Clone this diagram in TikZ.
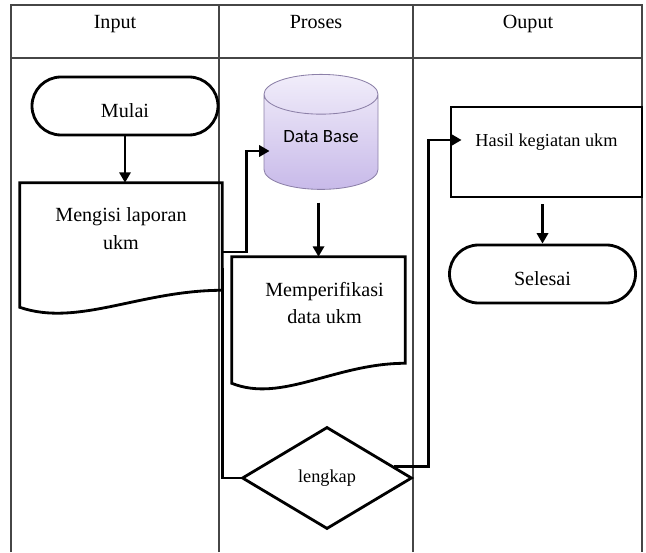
\documentclass[tikz,border=0pt]{standalone}
\usepackage{fontspec}
\setmainfont{Liberation Serif}
\newfontfamily\dbfont{Carlito}
\usetikzlibrary{shapes.geometric,arrows.meta}

\definecolor{dbtop}{RGB}{241,237,250}
\definecolor{dbbottom}{RGB}{200,186,233}
\definecolor{dbline}{RGB}{140,128,168}
\definecolor{gridline}{RGB}{70,70,70}

\newcommand*{\flowfont}{\fontsize{14.3}{19.8}\selectfont}

\tikzset{
	tableline/.style={line width=0.8pt,gridline},
	header/.style={font=\flowfont,text height=10pt,text depth=3pt},
	flowline/.style={line width=2pt},
	flowarrow/.style={line width=2pt,-{Triangle[length=2.6mm,width=2.8mm]}},
	terminal/.style={draw,line width=2pt,rounded corners=7.25mm,minimum width=4.65cm,minimum height=1.45cm,text height=16pt,text depth=0pt,font=\flowfont},
	docnode/.style={align=center,minimum height=2.3cm,inner sep=0pt,font=\flowfont},
	dbnode/.style={cylinder,shape border rotate=90,aspect=0.47,draw=dbline,line width=0.6pt,top color=dbtop,bottom color=dbbottom,minimum width=2.85cm,minimum height=2.875cm,text height=8.5pt,text depth=14pt,font=\dbfont\fontsize{13.3}{16}\selectfont},
	decision/.style={diamond,draw,line width=2pt,minimum width=4.25cm,minimum height=2.55cm,aspect=1.67,inner sep=0pt,font=\fontsize{13}{16}\selectfont},
}

\begin{document}
\begin{tikzpicture}
	\useasboundingbox (0,0) rectangle (16.15,13.8);

	% table
	\draw[tableline] (0.275,0) |- (16.05,13.675) -- (16.05,0);
	\draw[tableline] (0.275,12.35) -- (16.05,12.35);
	\draw[tableline] (5.475,0) -- (5.475,13.675);
	\draw[tableline] (10.325,0) -- (10.325,13.675);
	\node[header] (input) at (2.875,13.2) {Input};
	\node[header] (proses) at (7.9,13.2) {Proses};
	\node[header] (ouput) at (13.2,13.2) {Ouput};

	% input column
	\node[terminal] (mulai) at (3.125,11.15) {Mulai};
	\node[docnode,minimum width=5.05cm] (laporan) at (3.025,8.075) {Mengisi laporan\\ukm};
	\draw[flowline] (laporan.north west) -- (laporan.north east) -- ([yshift=-3.75mm]laporan.south east)
		.. controls +(-2.05,0) and +(1.45,-0.5) .. ([yshift=-8mm]laporan.south west) -- cycle;

	% proses column
	\node[dbnode] (database) at (8.025,10.15) {Data Base};
	\node[docnode,minimum width=4.325cm] (verif) at (7.9625,6.225) {\hspace*{3mm}Memperifikasi\\\hspace*{3mm}data ukm};
	\draw[flowline] (verif.north west) -- (verif.north east) -- ([yshift=-3.5mm]verif.south east)
		.. controls +(-1.75,0) and +(1.25,-0.5) .. ([yshift=-8.5mm]verif.south west) -- cycle;
	\node[decision] (lengkap) at (8.175,1.85) {lengkap};

	% ouput column
	\node[draw,line width=2pt,minimum width=4.775cm,minimum height=2.25cm,text height=9pt,text depth=17pt,font=\fontsize{13}{16}\selectfont] (hasil) at (13.6625,10) {Hasil kegiatan ukm};
	\node[terminal] (selesai) at (13.5625,6.95) {Selesai};

	% connectors
	\draw[flowarrow] (mulai.south) -- (mulai.south |- laporan.north);
	\draw[flowarrow] ([yshift=-5.75mm]laporan.east) -- ++(0.6,0) |- ([xshift=1.5mm,yshift=-1.25mm]database.west);
	\draw[flowarrow,shorten <=3.2mm] (database.south -| verif.north) -- (verif.north);
	\draw[flowline] ([yshift=1.75mm]laporan.south east) |- (lengkap.west);
	\draw[flowarrow] (lengkap.10) -| ([xshift=-5.25mm,yshift=3mm]hasil.west) -- ([xshift=3mm,yshift=3mm]hasil.west);
	\draw[flowarrow,shorten <=1.5mm] (hasil.south -| selesai.north) -- (selesai.north);
\end{tikzpicture}
\end{document}
